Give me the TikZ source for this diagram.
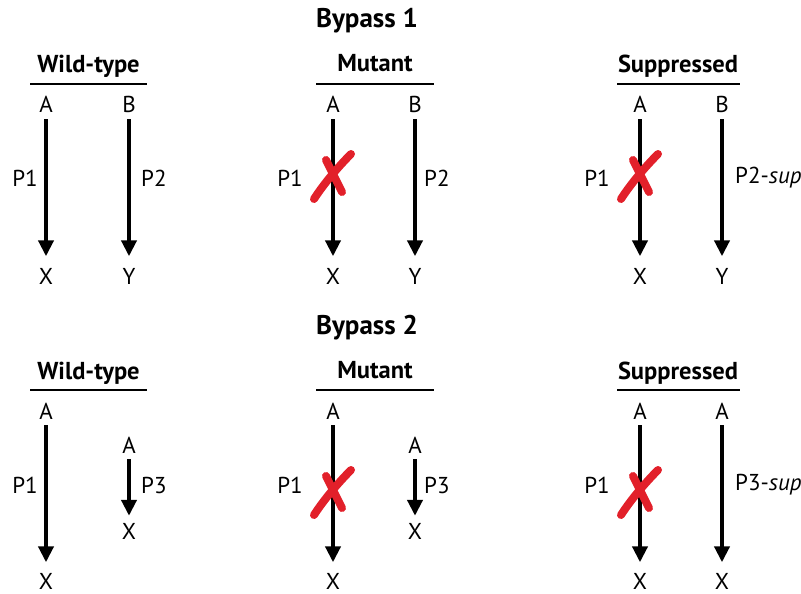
\documentclass[tikz,border=0pt]{standalone}
\usepackage{fontspec}
\setmainfont{PT Sans}
\usetikzlibrary{arrows.meta}
\definecolor{xred}{RGB}{226,32,42}
\tikzset{
  lbl/.style={inner sep=0pt, text height=14pt, text depth=0pt, font=\fontsize{23}{27}\selectfont},
  plbl/.style={inner sep=0pt, font=\fontsize{23}{27}\selectfont},
  ttl/.style={inner sep=0pt, anchor=base, font=\fontsize{24.5}{28}\selectfont\bfseries},
  bigttl/.style={inner sep=0pt, anchor=base, font=\fontsize{27}{31}\selectfont\bfseries},
  bar/.style={line width=2.5pt},
  path/.style={line width=4pt, -{Triangle[width=15pt,length=16pt]}},
  longarr/.style={path, shorten <=6pt, shorten >=13.5pt},
  shortarr/.style={path, shorten <=6pt, shorten >=9pt},
  cross/.style={xred, line width=8pt, line cap=round}
}
\begin{document}
\begin{tikzpicture}[x=1pt,y=-1pt]
\useasboundingbox (0,0) rectangle (801,594);
% ---------- Bypass 1 ----------
\node[bigttl] (t1) at (367,28) {Bypass 1};
% wild-type
\node[ttl] (w1) at (88.5,73) {Wild-type};
\draw[bar] (30,84) -- (147,84);
\node[lbl] (w1a) at (46,106) {A};
\node[lbl] (w1b) at (129,106) {B};
\node[lbl] (w1x) at (46,277) {X};
\node[lbl] (w1y) at (129,277) {Y};
\draw[longarr] (w1a) -- (w1x);
\draw[longarr] (w1b) -- (w1y);
\node[plbl] (w1p1) at (25,178) {P1};
\node[plbl, anchor=west] (w1p2) at (141,178) {P2};
% mutant
\node[ttl] (m1) at (375,72) {Mutant};
\draw[bar] (316,84) -- (434,84);
\node[lbl] (m1a) at (333,106) {A};
\node[lbl] (m1b) at (415,106) {B};
\node[lbl] (m1x) at (333,277) {X};
\node[lbl] (m1y) at (415,277) {Y};
\draw[longarr] (m1a) -- (m1x);
\draw[longarr] (m1b) -- (m1y);
\node[plbl] (m1p1) at (290,178) {P1};
\node[plbl, anchor=west] (m1p2) at (424,178) {P2};
\draw[cross] (314,199) .. controls (325,182) and (340,165) .. (351,154);
\draw[cross] (326,160) .. controls (331,170) and (337,182) .. (342,192);
% suppressed
\node[ttl] (s1) at (678,73) {Suppressed};
\draw[bar] (617,84) -- (740,84);
\node[lbl] (s1a) at (640,106) {A};
\node[lbl] (s1b) at (722,106) {B};
\node[lbl] (s1x) at (640,277) {X};
\node[lbl] (s1y) at (722,277) {Y};
\draw[longarr] (s1a) -- (s1x);
\draw[longarr] (s1b) -- (s1y);
\node[plbl] (s1p1) at (597,178) {P1};
\node[plbl, anchor=west] (s1p2) at (735,178) {P2-\textit{sup}};
\draw[cross] (621,199) .. controls (632,182) and (647,165) .. (658,154);
\draw[cross] (633,160) .. controls (638,170) and (644,182) .. (649,192);
% ---------- Bypass 2 ----------
\node[bigttl] (t2) at (367,334) {Bypass 2};
% wild-type
\node[ttl] (w2) at (88.5,379) {Wild-type};
\draw[bar] (30,390) -- (147,390);
\node[lbl] (w2a) at (46,412) {A};
\node[lbl] (w2x) at (46,582) {X};
\draw[longarr, shorten >=12.5pt] (w2a) -- (w2x);
\node[lbl] (w2a2) at (129,446) {A};
\node[lbl] (w2x2) at (129,532) {X};
\draw[shortarr] (w2a2) -- (w2x2);
\node[plbl] (w2p1) at (25,485) {P1};
\node[plbl, anchor=west] (w2p3) at (141,485) {P3};
% mutant
\node[ttl] (m2) at (375,378) {Mutant};
\draw[bar] (316,390) -- (434,390);
\node[lbl] (m2a) at (333,412) {A};
\node[lbl] (m2x) at (333,582) {X};
\draw[longarr, shorten >=12.5pt] (m2a) -- (m2x);
\node[lbl] (m2a2) at (415,446) {A};
\node[lbl] (m2x2) at (415,532) {X};
\draw[shortarr] (m2a2) -- (m2x2);
\node[plbl] (m2p1) at (290,485) {P1};
\node[plbl, anchor=west] (m2p3) at (424,485) {P3};
\draw[cross] (314,515) .. controls (325,498) and (340,481) .. (351,470);
\draw[cross] (326,476) .. controls (331,486) and (337,498) .. (342,508);
% suppressed
\node[ttl] (s2) at (678,379) {Suppressed};
\draw[bar] (617,390) -- (740,390);
\node[lbl] (s2a) at (640,412) {A};
\node[lbl] (s2b) at (722,412) {A};
\node[lbl] (s2x) at (640,582) {X};
\node[lbl] (s2y) at (722,582) {X};
\draw[longarr, shorten >=12.5pt] (s2a) -- (s2x);
\draw[longarr, shorten >=12.5pt] (s2b) -- (s2y);
\node[plbl] (s2p1) at (597,485) {P1};
\node[plbl, anchor=west] (s2p3) at (735,485) {P3-\textit{sup}};
\draw[cross] (621,515) .. controls (632,498) and (647,481) .. (658,470);
\draw[cross] (633,476) .. controls (638,486) and (644,498) .. (649,508);
\end{tikzpicture}
\end{document}
